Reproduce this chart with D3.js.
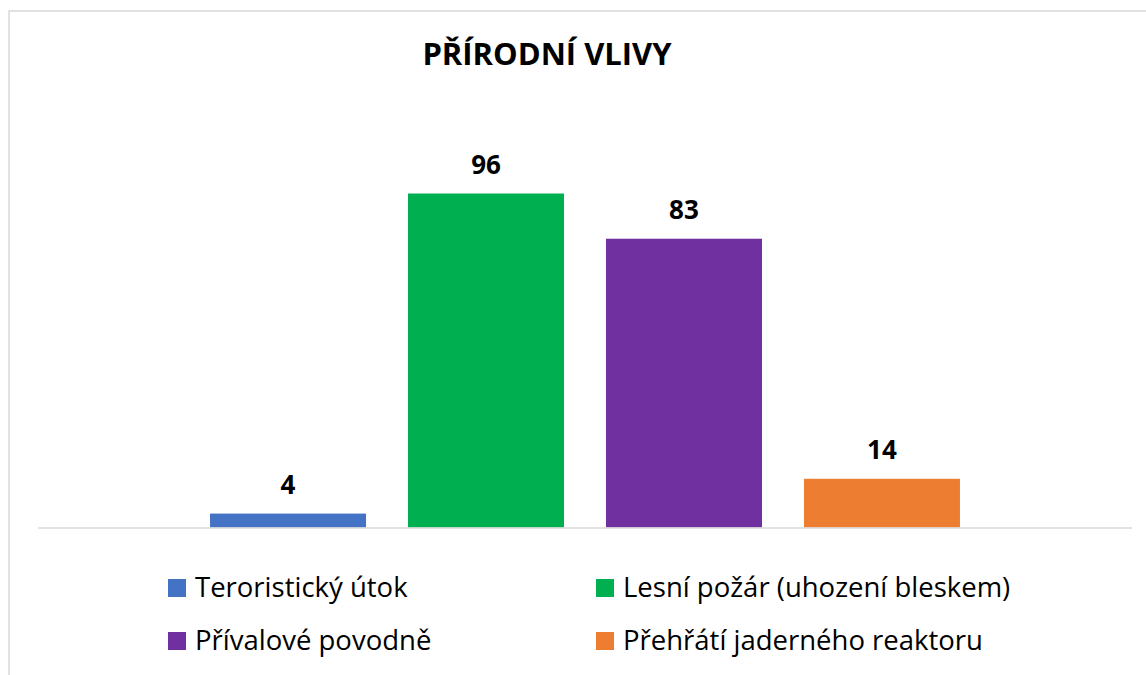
<!DOCTYPE html>
<html>
<head>
    <meta charset="UTF-8">
    <title>Přírodní vlivy</title>
    <script src="https://d3js.org/d3.v7.min.js"></script>
    <style>
        body { margin: 0; background: #fff; }
        svg { font-family: "Open Sans", sans-serif; }
    </style>
</head>
<body>
    <svg></svg>
    <script>
        const categories = ['Teroristický útok', 'Lesní požár (uhození bleskem)', 'Přívalové povodně', 'Přehřátí jaderného reaktoru'];
        const values = [4, 96, 83, 14];
        const colors = ['#4472C4', '#00B050', '#7030A0', '#ED7D31'];
        const title = 'PŘÍRODNÍ VLIVY';

        const W = 1146, H = 675;
        const svg = d3.select('svg').attr('width', W).attr('height', H);

        // chart frame (runs off right / bottom edge like the screenshot)
        svg.append('rect')
            .attr('x', 9).attr('y', 11)
            .attr('width', W).attr('height', H)
            .attr('fill', 'none')
            .attr('stroke', '#d9d9d9')
            .attr('stroke-width', 1.5);

        const x = d3.scaleBand()
            .domain(categories)
            .range([38, 1132])
            .paddingInner(0.212)
            .paddingOuter(0.869);

        const y = d3.scaleLinear()
            .domain([0, 100])
            .range([527.5, 179.6]);

        svg.append('text')
            .attr('x', 547)
            .attr('y', 65)
            .attr('text-anchor', 'middle')
            .attr('font-size', '31px')
            .attr('font-weight', 'bold')
            .attr('fill', '#000')
            .text(title);

        const data = categories.map((c, i) => ({ cat: c, val: values[i], color: colors[i] }));

        svg.selectAll('.bar')
            .data(data)
            .enter().append('rect')
            .attr('class', 'bar')
            .attr('x', d => x(d.cat))
            .attr('y', d => y(d.val))
            .attr('width', x.bandwidth())
            .attr('height', d => y(0) - y(d.val))
            .attr('fill', d => d.color);

        // baseline
        svg.append('line')
            .attr('x1', 38).attr('x2', 1132)
            .attr('y1', y(0) + 0.5).attr('y2', y(0) + 0.5)
            .attr('stroke', '#d9d9d9')
            .attr('stroke-width', 1.5);

        svg.selectAll('.label')
            .data(data)
            .enter().append('text')
            .attr('class', 'label')
            .attr('x', d => x(d.cat) + x.bandwidth() / 2)
            .attr('y', d => y(d.val) - 20)
            .attr('text-anchor', 'middle')
            .attr('font-size', '26px')
            .attr('font-weight', 'bold')
            .attr('fill', '#000')
            .text(d => d.val);

        // legend, two columns
        const legX = [168, 596];
        const legY = [597, 650];
        const leg = svg.selectAll('.leg')
            .data(data)
            .enter().append('g')
            .attr('class', 'leg')
            .attr('transform', (d, i) => `translate(${legX[i % 2]},${legY[Math.floor(i / 2)]})`);

        leg.append('rect')
            .attr('x', 0).attr('y', -18)
            .attr('width', 18).attr('height', 18)
            .attr('fill', d => d.color);

        leg.append('text')
            .attr('x', 27)
            .attr('y', 0)
            .attr('font-size', '27.5px')
            .attr('fill', '#000')
            .text(d => d.cat);
    </script>
</body>
</html>
